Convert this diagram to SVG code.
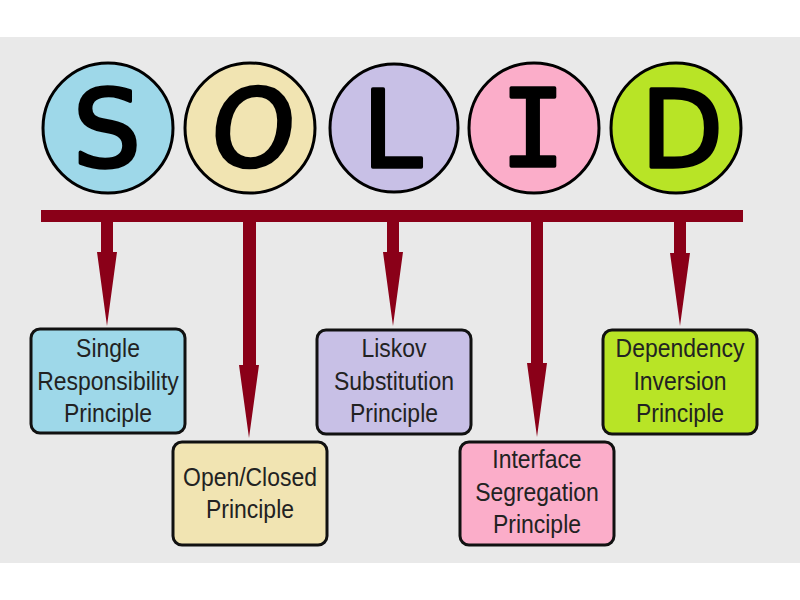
<svg xmlns="http://www.w3.org/2000/svg" width="800" height="600" viewBox="0 0 800 600">
<defs>
<style>
.circ{stroke:#000;stroke-width:3}
.big{font-family:"DejaVu Sans",sans-serif;font-size:107px;fill:#000;stroke:#000;stroke-width:3.5;stroke-linejoin:round;stroke-linecap:round;text-anchor:middle}
.mono{font-family:"DejaVu Sans Mono",monospace}
.box{stroke:#111;stroke-width:3}
.lbl{font-family:"Liberation Sans",Arial,sans-serif;font-size:25.5px;fill:#222;text-anchor:middle}
.wire{fill:#8a0018}
</style>
</defs>
<rect x="0" y="0" width="800" height="600" fill="#ffffff"/>
<rect x="0" y="37" width="800" height="526" fill="#e9e9e9"/>

<g id="letter-S">
<circle class="circ" cx="108" cy="128" r="65" fill="#9ed8e9"/>
<text class="big" x="107" y="166">S</text>
</g>
<g id="letter-O">
<circle class="circ" cx="250" cy="128" r="65" fill="#f1e4b2"/>
<text class="big" x="250" y="166" transform="skewX(-6) translate(17,0)">O</text>
</g>
<g id="letter-L">
<circle class="circ" cx="394" cy="128" r="64" fill="#c8c0e6"/>
<text class="big" x="392" y="167">L</text>
</g>
<g id="letter-I">
<circle class="circ" cx="534" cy="128" r="65" fill="#fbadc9"/>
<text class="big mono" x="533" y="166">I</text>
</g>
<g id="letter-D">
<circle class="circ" cx="676" cy="128" r="65" fill="#b8e426"/>
<text class="big" x="682" y="167">D</text>
</g>

<g id="connectors">
<rect class="wire" x="41" y="210" width="702" height="12"/>
<polygon class="wire" points="101,222 113,222 113,252 117,252 107,326 97,252 101,252"/>
<polygon class="wire" points="243,222 256,222 256,365 259,365 249,438 239,365 243,365"/>
<polygon class="wire" points="387,222 399,222 399,252 403,252 393,326 383,252 387,252"/>
<polygon class="wire" points="531,222 543,222 543,363 547,363 537,437 527,363 531,363"/>
<polygon class="wire" points="674,222 686,222 686,253 690,253 680,326 670,253 674,253"/>
</g>

<g id="node-srp">
<rect class="box" x="31" y="329" width="154" height="104" rx="9" fill="#9ed8e9"/>
<g transform="translate(108,0) scale(0.9,1)">
<text class="lbl" x="0" y="357">Single</text>
<text class="lbl" x="0" y="390">Responsibility</text>
<text class="lbl" x="0" y="422">Principle</text>
</g>
</g>
<g id="node-ocp">
<rect class="box" x="173" y="442" width="154" height="103" rx="9" fill="#f1e4b2"/>
<g transform="translate(250,0) scale(0.9,1)">
<text class="lbl" x="0" y="486">Open/Closed</text>
<text class="lbl" x="0" y="518">Principle</text>
</g>
</g>
<g id="node-lsp">
<rect class="box" x="317" y="330" width="154" height="104" rx="9" fill="#c8c0e6"/>
<g transform="translate(394,0) scale(0.9,1)">
<text class="lbl" x="0" y="357">Liskov</text>
<text class="lbl" x="0" y="390">Substitution</text>
<text class="lbl" x="0" y="422">Principle</text>
</g>
</g>
<g id="node-isp">
<rect class="box" x="460" y="442" width="154" height="103" rx="9" fill="#fbadc9"/>
<g transform="translate(537,0) scale(0.9,1)">
<text class="lbl" x="0" y="468">Interface</text>
<text class="lbl" x="0" y="501">Segregation</text>
<text class="lbl" x="0" y="533">Principle</text>
</g>
</g>
<g id="node-dip">
<rect class="box" x="603" y="330" width="154" height="104" rx="9" fill="#b8e426"/>
<g transform="translate(680,0) scale(0.9,1)">
<text class="lbl" x="0" y="357">Dependency</text>
<text class="lbl" x="0" y="390">Inversion</text>
<text class="lbl" x="0" y="422">Principle</text>
</g>
</g>
</svg>
